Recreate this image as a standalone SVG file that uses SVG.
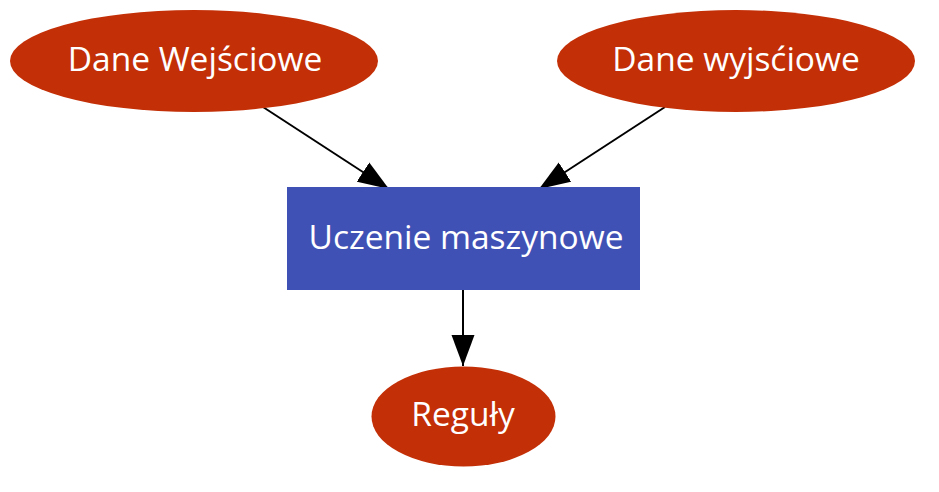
<svg xmlns="http://www.w3.org/2000/svg" width="939" height="492" viewBox="0 0 939 492">
<defs>
<style>
.ell{fill:#c32f06;}
.box{fill:#3f51b5;}
.lbl{font-family:"Open Sans","Noto Sans",sans-serif;font-size:33.5px;fill:#ffffff;text-anchor:middle;}
.edge{stroke:#000;stroke-width:2;fill:none;}
</style>
<marker id="ah" markerUnits="userSpaceOnUse" markerWidth="32" markerHeight="24" refX="31" refY="11.5" orient="auto" viewBox="0 0 32 23">
<path d="M0,0 L31,11.5 L0,23 z" fill="#000"/>
</marker>
</defs>
<rect width="939" height="492" fill="#fff"/>
<g id="connectors">
<path class="edge" d="M263,107 L389,189" marker-end="url(#ah)"/>
<path class="edge" d="M665,107 L539,189" marker-end="url(#ah)"/>
<path class="edge" d="M463,290 L463,366" marker-end="url(#ah)"/>
</g>
<g id="n1">
<ellipse class="ell" cx="194" cy="61" rx="184" ry="51"/>
<text class="lbl" x="195" y="71">Dane Wejściowe</text>
</g>
<g id="n2">
<ellipse class="ell" cx="736" cy="61" rx="179" ry="51"/>
<text class="lbl" x="736" y="71">Dane wyjsćiowe</text>
</g>
<g id="n3">
<rect class="box" x="287" y="187" width="353" height="103"/>
<text class="lbl" x="466" y="249">Uczenie maszynowe</text>
</g>
<g id="n4">
<ellipse class="ell" cx="463.5" cy="416.5" rx="92" ry="50"/>
<text class="lbl" x="463" y="426">Reguły</text>
</g>
</svg>
